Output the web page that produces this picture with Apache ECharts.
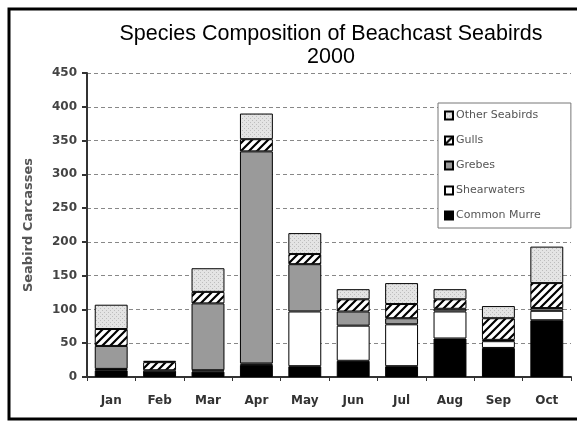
<!DOCTYPE html>
<html>
<head>
<meta charset="utf-8">
<script src="https://cdn.jsdelivr.net/npm/echarts@6/dist/echarts.min.js"></script>
<style>
  html, body { margin: 0; padding: 0; background: #fff; }
  #chart { width: 577px; height: 422px; }
</style>
</head>
<body>
<div id="chart"></div>
<script>
// data
var months = ['Jan', 'Feb', 'Mar', 'Apr', 'May', 'Jun', 'Jul', 'Aug', 'Sep', 'Oct'];
var commonMurre = [10, 7, 8, 18, 16, 24, 16, 57, 43, 84];
var shearwaters = [2, 0, 2, 2, 81, 52, 62, 40, 10, 14];
var grebes = [34, 3, 99, 314, 70, 21, 9, 4, 2, 4];
var gulls = [25, 12, 17, 18, 15, 18, 21, 14, 32, 37];
var otherSeabirds = [36, 2, 35, 38, 31, 15, 31, 15, 18, 54];

// patterns
function hatch() {
  var c = document.createElement('canvas');
  c.width = 8; c.height = 8;
  var g = c.getContext('2d');
  g.fillStyle = '#fff';
  g.fillRect(0, 0, 8, 8);
  g.strokeStyle = '#000';
  g.lineWidth = 2.2;
  g.beginPath();
  g.moveTo(-2, 10); g.lineTo(10, -2);
  g.moveTo(-6, 6); g.lineTo(6, -6);
  g.moveTo(2, 14); g.lineTo(14, 2);
  g.stroke();
  return c;
}
function stipple() {
  var c = document.createElement('canvas');
  c.width = 4; c.height = 4;
  var g = c.getContext('2d');
  g.fillStyle = '#e4e4e4';
  g.fillRect(0, 0, 4, 4);
  g.fillStyle = '#bdbdbd';
  g.fillRect(0, 0, 1, 1);
  g.fillRect(2, 2, 1, 1);
  return c;
}

var chart = echarts.init(document.getElementById('chart'));
var edge = { borderColor: '#000', borderWidth: 1 };

function bar(name, data, color) {
  return {
    name: name,
    type: 'bar',
    stack: 'all',
    barWidth: '68%',
    data: data,
    itemStyle: Object.assign({ color: color }, edge)
  };
}

chart.setOption({
  animation: false,
  title: {
    text: 'Species Composition of Beachcast Seabirds\n2000',
    left: 326,
    top: 18,
    textAlign: 'center',
    textStyle: {
      fontFamily: 'Liberation Sans',
      fontWeight: 'normal',
      fontSize: 21.5,
      lineHeight: 23,
      color: '#000'
    }
  },
  graphic: [{
    type: 'rect',
    shape: { x: 9, y: 9, width: 620, height: 410 },
    style: { fill: 'none', stroke: '#000', lineWidth: 3 }
  }],
  legend: {
    orient: 'vertical',
    left: 438,
    top: 103,
    icon: 'rect',
    itemWidth: 8,
    itemHeight: 8,
    itemGap: 12,
    padding: [6, 30, 6, 6],
    backgroundColor: '#fff',
    borderColor: '#777',
    borderWidth: 1,
    data: ['Other Seabirds', 'Gulls', 'Grebes', 'Shearwaters', 'Common Murre'],
    textStyle: { fontFamily: 'DejaVu Sans', fontSize: 11, lineHeight: 13, color: '#555', padding: [0, 0, 0, -2] }
  },
  grid: { left: 87, right: 6, top: 73, bottom: 45 },
  xAxis: {
    type: 'category',
    data: months,
    axisLine: { lineStyle: { color: '#333', width: 2 } },
    axisTick: { show: true, length: 4, lineStyle: { color: '#333' } },
    axisLabel: { fontFamily: 'DejaVu Sans', fontWeight: 'bold', fontSize: 12, color: '#333', margin: 18 }
  },
  yAxis: {
    type: 'value',
    min: 0,
    max: 450,
    interval: 50,
    name: 'Seabird Carcasses',
    nameLocation: 'middle',
    nameGap: 52,
    nameTextStyle: { fontFamily: 'DejaVu Sans', fontWeight: 'bold', fontSize: 13, color: '#555' },
    axisLine: { show: true, lineStyle: { color: '#333', width: 2 } },
    axisTick: { show: true, length: 5, inside: false, lineStyle: { color: '#333', width: 2 } },
    axisLabel: { fontFamily: 'DejaVu Sans', fontWeight: 'bold', fontSize: 12, color: '#444', margin: 10 },
    splitLine: { lineStyle: { color: '#888', type: [4, 3] } }
  },
  series: [
    bar('Common Murre', commonMurre, '#000'),
    bar('Shearwaters', shearwaters, '#fff'),
    bar('Grebes', grebes, '#9a9a9a'),
    bar('Gulls', gulls, { image: hatch(), repeat: 'repeat' }),
    bar('Other Seabirds', otherSeabirds, { image: stipple(), repeat: 'repeat' })
  ]
});
</script>
</body>
</html>
